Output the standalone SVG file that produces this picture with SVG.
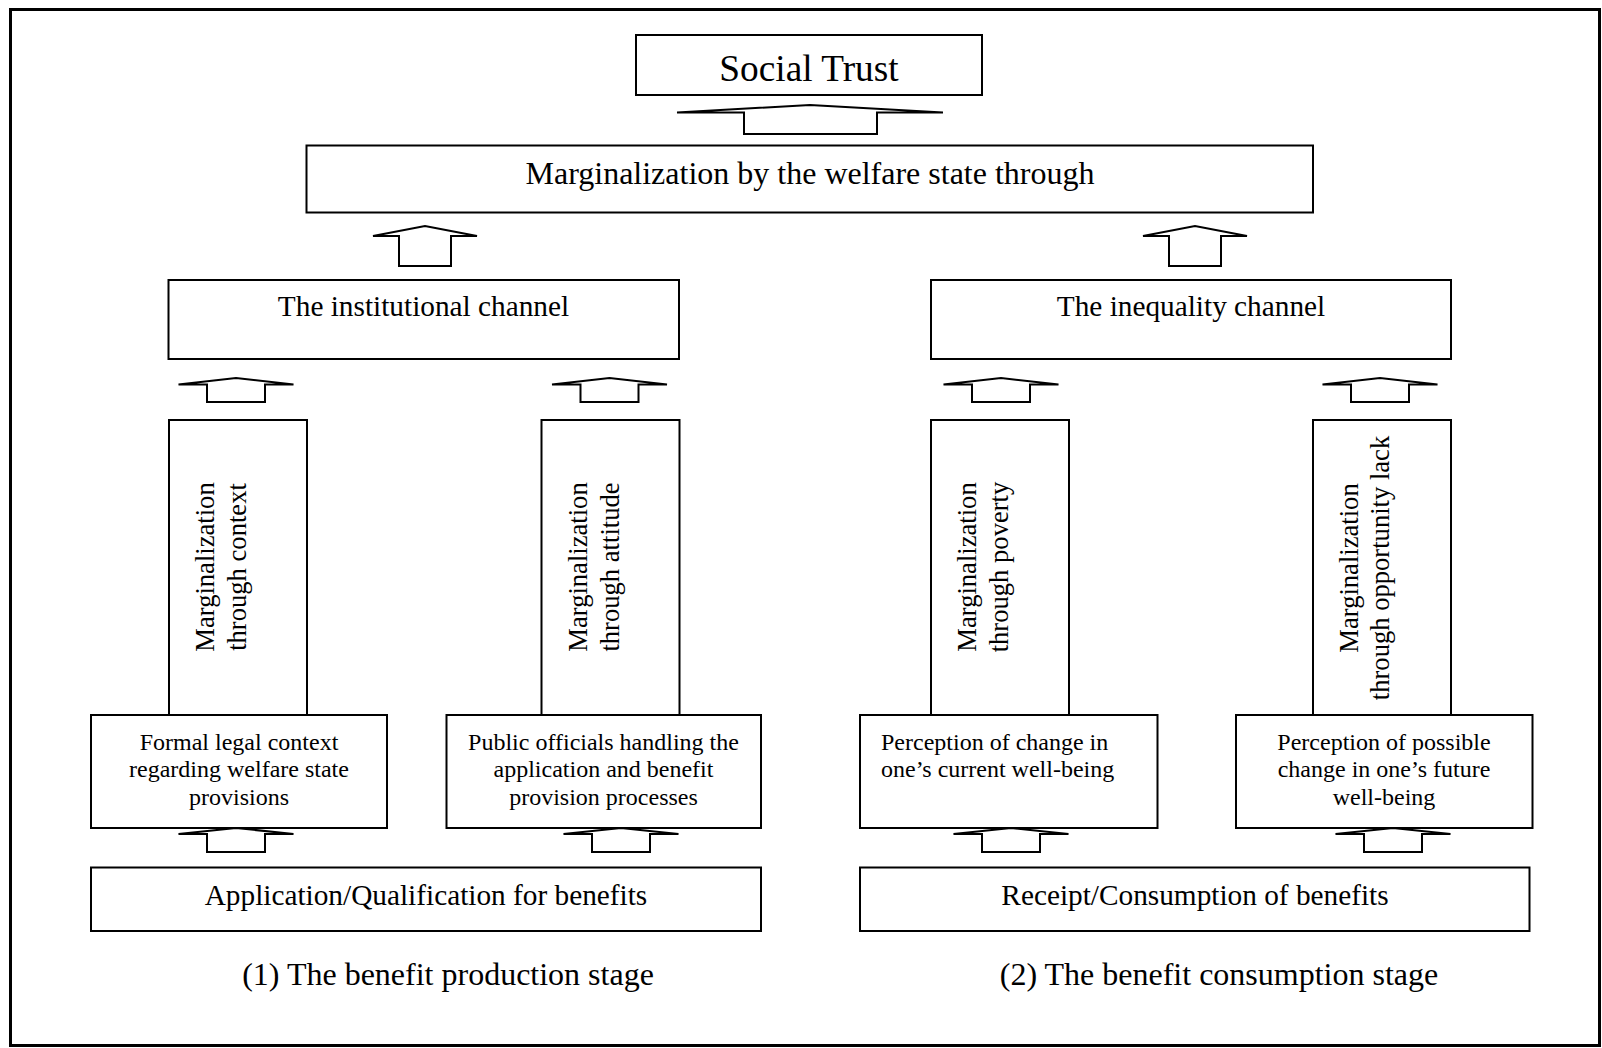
<svg xmlns="http://www.w3.org/2000/svg" width="1602" height="1048" viewBox="0 0 1602 1048">
<style>
.box{fill:#fff;stroke:#000;stroke-width:2}
.arr{fill:#fff;stroke:#000;stroke-width:2;stroke-linejoin:miter}
text{font-family:"Liberation Serif","Times New Roman",serif;fill:#000}
.c{text-anchor:middle}
.t24{font-size:24px}
.t26{font-size:26.6px}
.t29{font-size:29.3px}
.t32{font-size:32px}
</style>
<rect x="0" y="0" width="1602" height="1048" fill="#fff"/>
<rect x="10.5" y="9.5" width="1589" height="1036" fill="none" stroke="#000" stroke-width="3"/>

<g id="connectors">
  <polygon class="arr" points="677,112.5 810,105 943,112.5 877,112.5 877,134 744,134 744,112.5"/>
  <polygon class="arr" points="373,236 425,226 477,236 451,236 451,266 399,266 399,236"/>
  <polygon class="arr" points="1143,236 1195,226 1247,236 1221,236 1221,266 1169,266 1169,236"/>
  <polygon class="arr" points="178.5,384.5 236,378 293.5,384.5 265,384.5 265,402 207,402 207,384.5"/>
  <polygon class="arr" points="552,384.5 609.5,378 667,384.5 638.5,384.5 638.5,402 580.5,402 580.5,384.5"/>
  <polygon class="arr" points="943.5,384.5 1001,378 1058.5,384.5 1030,384.5 1030,402 972,402 972,384.5"/>
  <polygon class="arr" points="1322.5,384.5 1380,378 1437.5,384.5 1409,384.5 1409,402 1351,402 1351,384.5"/>
  <polygon class="arr" points="178.5,834 236,828 293.5,834 265,834 265,852 207,852 207,834"/>
  <polygon class="arr" points="563.5,834 621,828 678.5,834 650,834 650,852 592,852 592,834"/>
  <polygon class="arr" points="953.5,834 1011,828 1068.5,834 1040,834 1040,852 982,852 982,834"/>
  <polygon class="arr" points="1335.5,834 1393,828 1450.5,834 1422,834 1422,852 1364,852 1364,834"/>
</g>

<g id="social-trust">
  <rect class="box" x="636" y="35" width="346" height="60"/>
  <text class="c" x="809" y="81" font-size="37.3">Social Trust</text>
</g>
<g id="marginalization">
  <rect class="box" x="306.5" y="145.5" width="1006.5" height="67"/>
  <text class="c t32" x="810" y="184">Marginalization by the welfare state through</text>
</g>
<g id="institutional">
  <rect class="box" x="168.5" y="280" width="510.5" height="79"/>
  <text class="c t29" x="423.5" y="316">The institutional channel</text>
</g>
<g id="inequality">
  <rect class="box" x="931" y="280" width="520" height="79"/>
  <text class="c t29" x="1191" y="316">The inequality channel</text>
</g>

<g id="m-context">
  <rect class="box" x="169" y="420" width="138" height="295"/>
  <text class="c t26" transform="translate(214,567) rotate(-90)">Marginalization</text>
  <text class="c t26" transform="translate(246,567) rotate(-90)">through context</text>
</g>
<g id="m-attitude">
  <rect class="box" x="541.5" y="420" width="138" height="295"/>
  <text class="c t26" transform="translate(586.5,567) rotate(-90)">Marginalization</text>
  <text class="c t26" transform="translate(618.5,567) rotate(-90)">through attitude</text>
</g>
<g id="m-poverty">
  <rect class="box" x="931" y="420" width="138" height="295"/>
  <text class="c t26" transform="translate(976,567) rotate(-90)">Marginalization</text>
  <text class="c t26" transform="translate(1008,567) rotate(-90)">through poverty</text>
</g>
<g id="m-opportunity">
  <rect class="box" x="1313" y="420" width="138" height="295"/>
  <text class="c t26" transform="translate(1358,568) rotate(-90)">Marginalization</text>
  <text class="c t26" transform="translate(1389,568) rotate(-90)">through opportunity lack</text>
</g>

<g id="formal-legal">
  <rect class="box" x="91" y="715" width="296" height="113"/>
  <text class="c t24" x="239" y="749.5">Formal legal context</text>
  <text class="c t24" x="239" y="777">regarding welfare state</text>
  <text class="c t24" x="239" y="804.5">provisions</text>
</g>
<g id="public-officials">
  <rect class="box" x="446.5" y="715" width="314.5" height="113"/>
  <text class="c t24" x="603.5" y="749.5">Public officials handling the</text>
  <text class="c t24" x="603.5" y="777">application and benefit</text>
  <text class="c t24" x="603.5" y="804.5">provision processes</text>
</g>
<g id="perception-current">
  <rect class="box" x="860" y="715" width="297.5" height="113"/>
  <text class="t24" x="881" y="749.5">Perception of change in</text>
  <text class="t24" x="881" y="777">one’s current well-being</text>
</g>
<g id="perception-future">
  <rect class="box" x="1236" y="715" width="296.5" height="113"/>
  <text class="c t24" x="1384" y="749.5">Perception of possible</text>
  <text class="c t24" x="1384" y="777">change in one’s future</text>
  <text class="c t24" x="1384" y="804.5">well-being</text>
</g>

<g id="application">
  <rect class="box" x="91" y="867.5" width="670" height="63.5"/>
  <text class="c t29" x="426" y="905">Application/Qualification for benefits</text>
</g>
<g id="receipt">
  <rect class="box" x="860" y="867.5" width="669.5" height="63.5"/>
  <text class="c t29" x="1195" y="905">Receipt/Consumption of benefits</text>
</g>

<g id="captions">
  <text class="c t32" x="448" y="985">(1) The benefit production stage</text>
  <text class="c t32" x="1219" y="985">(2) The benefit consumption stage</text>
</g>
</svg>
